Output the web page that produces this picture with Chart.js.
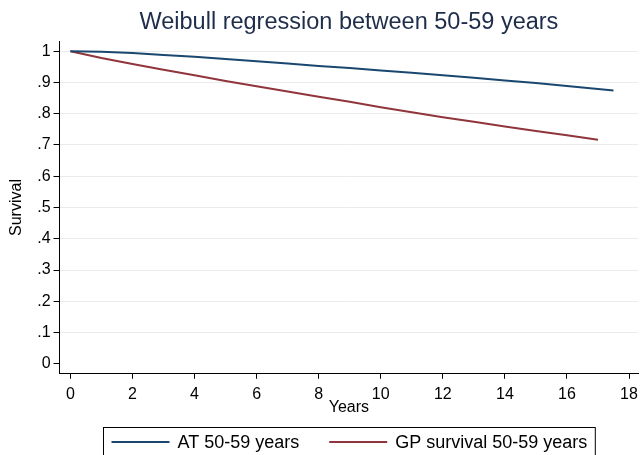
<!DOCTYPE html>
<html>
<head>
<meta charset="utf-8">
<script src="https://cdn.jsdelivr.net/npm/chart.js@4/dist/chart.umd.min.js"></script>
<style>
  html, body { margin: 0; padding: 0; background: #fff; }
  #wrap { width: 644px; height: 455px; position: relative; }
</style>
</head>
<body>
<div id="wrap"><canvas id="chart"></canvas></div>
<script>
// Dados
const atYears = [0, 1, 2, 3, 4, 5, 6, 7, 8, 9, 10, 11, 12, 13, 14, 15, 16, 17, 17.5];
const atSurvival = [1, 0.998, 0.994, 0.988, 0.982, 0.975, 0.968, 0.961, 0.953, 0.946, 0.938, 0.931, 0.923, 0.915, 0.906, 0.898, 0.889, 0.879, 0.874];

const gpYears = [0, 1, 2, 3, 4, 5, 6, 7, 8, 9, 10, 11, 12, 13, 14, 15, 16, 17];
const gpSurvival = [1, 0.978, 0.959, 0.941, 0.923, 0.905, 0.888, 0.871, 0.854, 0.838, 0.821, 0.805, 0.789, 0.774, 0.759, 0.745, 0.731, 0.717];

const seriesLabels = ["AT 50-59 years", "GP survival 50-59 years"];
const seriesColors = ["#1a476f", "#90353b"];

const xTicks = [0, 2, 4, 6, 8, 10, 12, 14, 16, 18];
const yTicks = [0, 0.1, 0.2, 0.3, 0.4, 0.5, 0.6, 0.7, 0.8, 0.9, 1];

const FONT = "'Liberation Sans', Arial, sans-serif";

const toPoints = (xs, ys) => xs.map((x, i) => ({ x: x, y: ys[i] }));

// Legenda com moldura, estilo Stata
const boxedLegend = {
  id: "boxedLegend",
  afterDraw(chart) {
    const ctx = chart.ctx;
    const area = chart.chartArea;
    const sample = 58, gap = 8, itemGap = 30, pad = 8;
    ctx.save();
    ctx.font = "18px " + FONT;
    const widths = seriesLabels.map(t => ctx.measureText(t).width);
    let total = pad * 2 + itemGap * (seriesLabels.length - 1);
    widths.forEach(w => { total += sample + gap + w; });
    const left = Math.round((area.left + area.right) / 2 - total / 2) + 0.5;
    const top = 427.5, midY = 442;
    ctx.strokeStyle = "#000";
    ctx.lineWidth = 1;
    ctx.strokeRect(left, top, total, 32);
    let x = left + pad;
    seriesLabels.forEach((t, i) => {
      ctx.strokeStyle = seriesColors[i];
      ctx.lineWidth = 2;
      ctx.beginPath();
      ctx.moveTo(x, midY);
      ctx.lineTo(x + sample, midY);
      ctx.stroke();
      x += sample + gap;
      ctx.fillStyle = "#000";
      ctx.textBaseline = "middle";
      ctx.fillText(t, x, midY + 1);
      x += widths[i] + itemGap;
    });
    ctx.restore();
  }
};

new Chart(document.getElementById("chart"), {
  type: "line",
  plugins: [boxedLegend],
  data: {
    datasets: [
      {
        label: seriesLabels[0],
        data: toPoints(atYears, atSurvival),
        borderColor: seriesColors[0],
        borderWidth: 2,
        pointRadius: 0,
        tension: 0,
      },
      {
        label: seriesLabels[1],
        data: toPoints(gpYears, gpSurvival),
        borderColor: seriesColors[1],
        borderWidth: 2,
        pointRadius: 0,
        tension: 0,
      },
    ],
  },
  options: {
    responsive: true,
    maintainAspectRatio: false,
    animation: false,
    layout: { padding: { left: 0, right: 0, top: 0, bottom: 39 } },
    plugins: {
      legend: { display: false },
      tooltip: { enabled: false },
      title: {
        display: true,
        text: "Weibull regression between 50-59 years",
        fullSize: false,
        color: "#1e2d4a",
        font: { family: FONT, size: 23.5, weight: "normal" },
        padding: { top: 8, bottom: 5 },
      },
    },
    scales: {
      x: {
        type: "linear",
        min: -0.35,
        max: 18.3,
        afterBuildTicks: (scale) => { scale.ticks = xTicks.map(v => ({ value: v })); },
        ticks: {
          color: "#000",
          font: { family: FONT, size: 16 },
          padding: 6,
          maxRotation: 0,
        },
        grid: { drawOnChartArea: false, tickLength: 5, tickColor: "#000" },
        border: { color: "#000", width: 1 },
        title: {
          display: true,
          text: "Years",
          color: "#000",
          font: { family: FONT, size: 16, lineHeight: 1 },
          padding: { top: -10, bottom: 0 },
        },
      },
      y: {
        type: "linear",
        min: -0.032,
        max: 1.032,
        afterBuildTicks: (scale) => { scale.ticks = yTicks.map(v => ({ value: v })); },
        ticks: {
          color: "#000",
          font: { family: FONT, size: 16 },
          padding: 3,
          callback: (v) => (v === 0 ? "0" : v === 1 ? "1" : "." + Math.round(v * 10)),
        },
        grid: {
          color: (c) => (c.tick && c.tick.value === 0 ? "rgba(0,0,0,0)" : "#ebebeb"),
          tickLength: 6,
          tickColor: "#000",
        },
        border: { color: "#000", width: 1 },
        title: {
          display: true,
          text: "Survival",
          color: "#000",
          font: { family: FONT, size: 16 },
          padding: { top: 7, bottom: 8 },
        },
      },
    },
  },
});
</script>
</body>
</html>
